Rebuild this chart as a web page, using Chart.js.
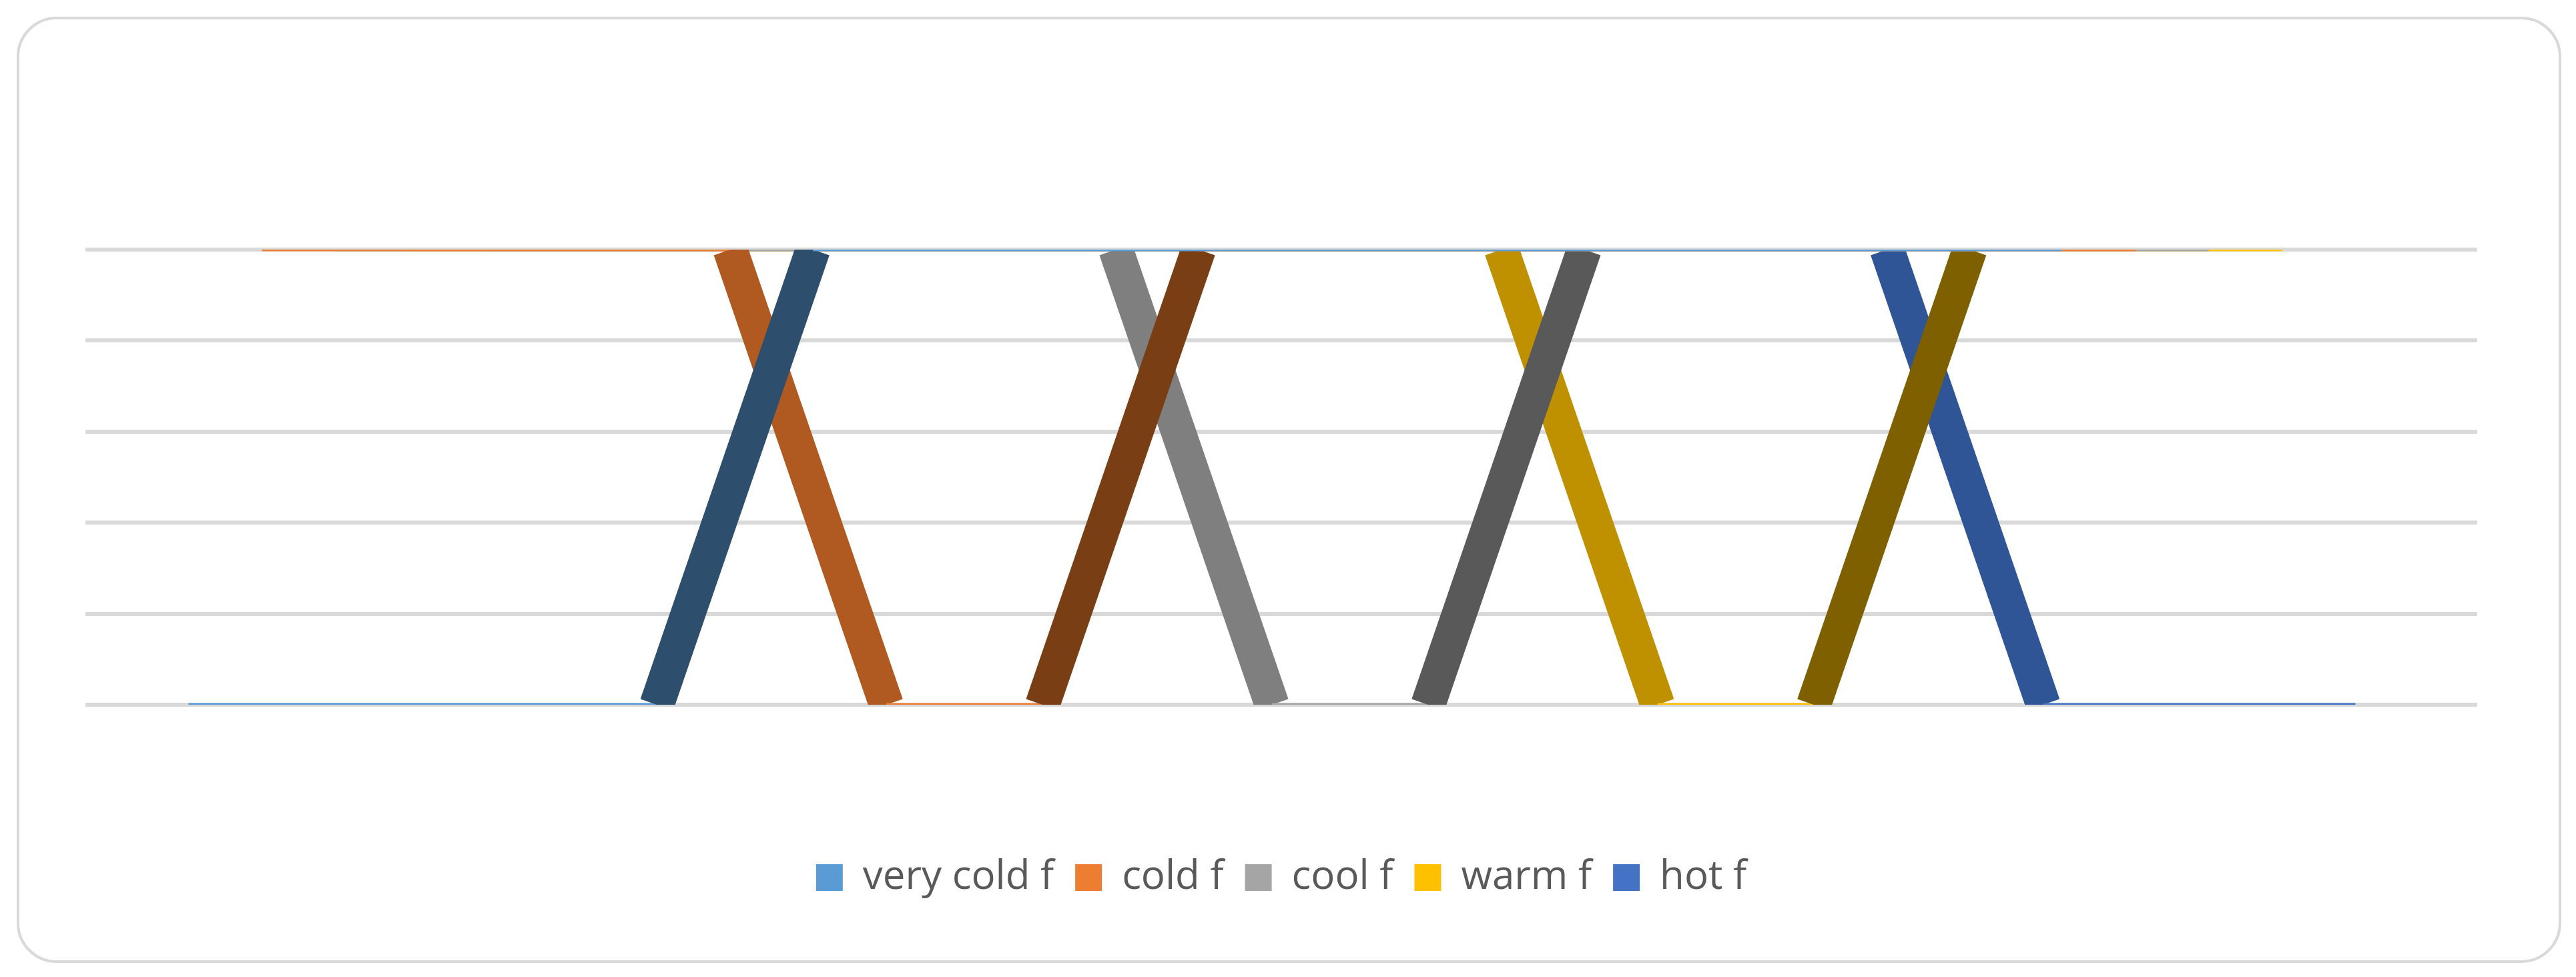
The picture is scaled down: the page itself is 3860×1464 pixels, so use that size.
<!DOCTYPE html>
<html><head><meta charset="utf-8">
<script src="https://cdn.jsdelivr.net/npm/chart.js@4/dist/chart.umd.min.js"></script>
<style>
html,body{margin:0;padding:0;background:#fff;}
#frame{position:absolute;left:25px;top:25px;width:3805px;height:1410px;border:4px solid #d9d9d9;border-radius:60px;}
#c{position:absolute;left:0;top:0;}
</style></head><body>
<div id="frame"></div>
<canvas id="c" width="3860" height="1464"></canvas>
<script>
const categories = [0,1,2,3,4,5,6,7,8,9,10,11,12];
const seriesNames = ["very cold f","cold f","cool f","warm f","hot f"];
const veryCold = [0,0,0,0,1,1,1,1,1,1,1,1,1];
const cold     = [1,1,1,1,0,0,1,1,1,1,1,1,1];
const cool     = [1,1,1,1,1,1,0,0,1,1,1,1,1];
const warm     = [1,1,1,1,1,1,1,1,0,0,1,1,1];
const hot      = [1,1,1,1,1,1,1,1,1,1,0,0,0];
const baseColors = ["#5B9BD5","#ED7D31","#A5A5A5","#FFC000","#4472C4"];
const fallColors = ["#3E6E99","#B05A22","#7F7F7F","#BF9000","#2F5597"];
const riseColors = ["#2E4E6E","#7A3E14","#595959","#7F6000","#2F4F8F"];
const depth = 0.47;
const allSeries = [veryCold,cold,cool,warm,hot];

const datasets = allSeries.map((vals,k)=>({
  label: seriesNames[k],
  data: categories.map((c,i)=>({x:c+k*depth,y:vals[i]})),
  borderColor: baseColors[k],
  backgroundColor: baseColors[k],
  borderWidth: 5,
  pointRadius: 0,
  fill:false,
  tension:0,
  borderCapStyle:'butt',
  segment:{
    borderWidth: ctx => ctx.p0.parsed.y===ctx.p1.parsed.y ? 5 : 52,
    borderColor: ctx => ctx.p0.parsed.y===ctx.p1.parsed.y ? baseColors[k] :
       (ctx.p1.parsed.y>ctx.p0.parsed.y ? riseColors[k] : fallColors[k])
  }
}));

new Chart(document.getElementById('c'),{
  type:'line',
  data:{datasets},
  options:{
    responsive:false, animation:false,
    layout:{padding:{left:128,right:148,top:374,bottom:109}},
    scales:{
      x:{type:'linear',min:-0.66,max:14.66,display:true,
         grid:{display:false},ticks:{display:false},border:{display:false},
         afterFit:s=>{s.height=197;}},
      y:{min:0,max:1,ticks:{display:false,stepSize:0.2},
         grid:{color:'#d9d9d9',lineWidth:6,drawTicks:false},border:{display:false},
         afterFit:s=>{s.width=0;}}
    },
    plugins:{
      tooltip:{enabled:false},
      legend:{position:'bottom',
        labels:{font:{family:'"Open Sans", sans-serif',size:60},color:'#595959',
          boxWidth:40,boxHeight:40,padding:32,
          generateLabels:ch=>ch.data.datasets.map((d,i)=>({text:d.label,fillStyle:baseColors[i],strokeStyle:baseColors[i],fontColor:'#595959',lineWidth:0,datasetIndex:i}))
        }}
    }
  }
});
</script></body></html>
